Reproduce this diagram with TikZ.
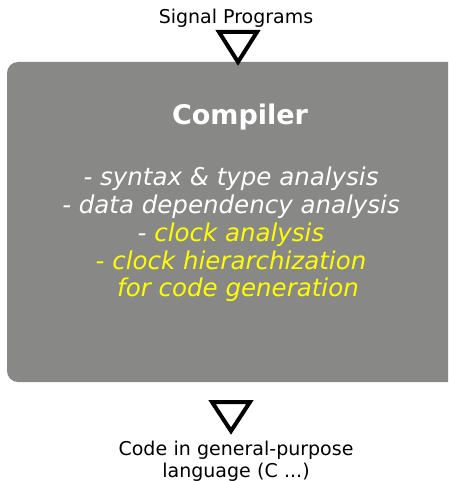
\documentclass[tikz,border=0pt]{standalone}
\usepackage{fontspec}
\setmainfont{DejaVu Sans}
\definecolor{boxgrey}{RGB}{136,137,135}
\definecolor{hilite}{RGB}{255,255,0}
\begin{document}
\begin{tikzpicture}[x=1pt,y=-1pt,
  label/.style={font=\fontsize{19}{22}\selectfont, anchor=base, inner sep=0pt, align=center},
  stage/.style={font=\fontsize{24.5}{28}\selectfont\itshape, anchor=base, inner sep=0pt, text=white},
  flowmark/.style={draw=black, line width=4pt, line join=miter},
  ]
  \useasboundingbox (0,0) rectangle (448,481);
  \clip (0,0) rectangle (448,481);

  % compiler block
  \fill[boxgrey, rounded corners=11pt] (7,62) rectangle (462,382);
  \coordinate (boxtop) at (238,62);
  \coordinate (boxbot) at (231,382);

  % input and output labels
  \node[label] (input) at (236,24) {Signal Programs};
  \node[label, text width=300pt, font=\fontsize{19}{22.5}\selectfont] (output) at (236,455)
    {Code in general-purpose\\language (C ...)};

  % flow markers
  \draw[flowmark] (219,32) -- (257,32) -- (boxtop) -- cycle;
  \draw[flowmark] (212,402) -- (250,402) -- (231,431) -- cycle;

  % title and stages
  \node[anchor=base, inner sep=0pt, text=white, font=\fontsize{27}{30}\selectfont\bfseries] (title) at (240,125) {Compiler};
  \node[stage] (s1) at (231,185) {- syntax \& type analysis};
  \node[stage] (s2) at (231,213) {- data dependency analysis};
  \node[stage] (s3) at (231,241) {- \textcolor{hilite}{clock analysis}};
  \node[stage, text=hilite] (s4) at (231,269) {- clock hierarchization};
  \node[stage, text=hilite] (s5) at (238,296) {for code generation};
\end{tikzpicture}
\end{document}
